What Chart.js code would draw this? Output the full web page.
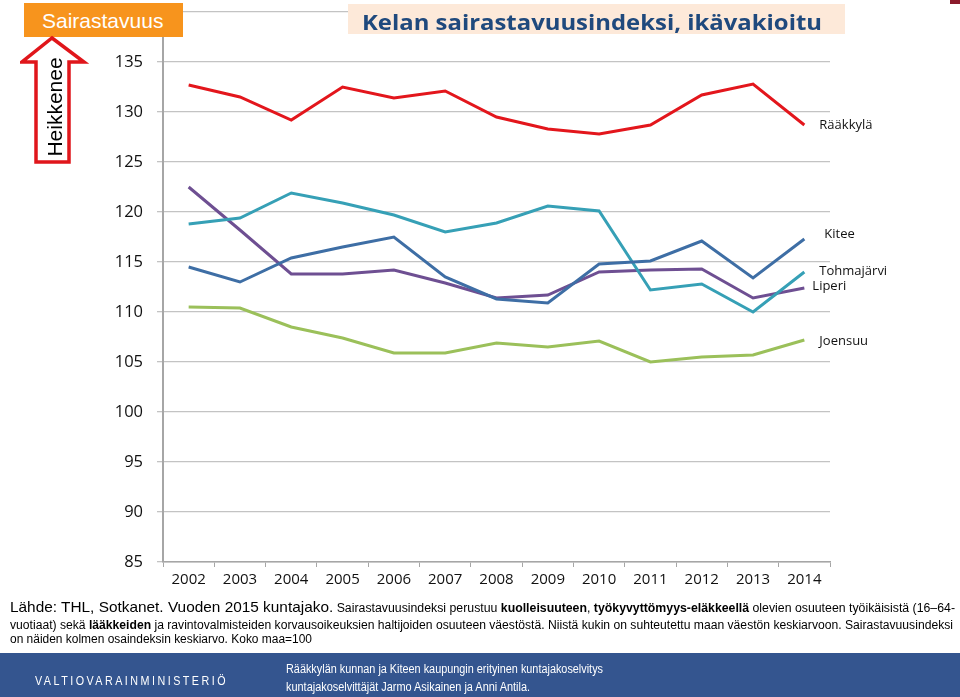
<!DOCTYPE html>
<html>
<head>
<meta charset="utf-8">
<script src="https://cdn.jsdelivr.net/npm/chart.js@4.4.1/dist/chart.umd.min.js"></script>
<style>
  html, body { margin:0; padding:0; background:#fff; }
  #wrap { position:relative; width:960px; height:697px; overflow:hidden; font-family:"Liberation Sans", Arial, sans-serif; }
  canvas { position:absolute; left:0; top:0; }
  .ov { position:absolute; white-space:nowrap; }
  .fit { transform-origin:0 50%; }
</style>
</head>
<body>
<div id="wrap">
  <canvas id="c" width="960" height="697"></canvas>

  <div class="ov" style="left:24px;top:3px;width:159px;height:34px;background:#f7941d;"></div>
  <div class="ov" style="left:42px;top:8px;color:#fff;font-size:21px;line-height:26px;">Sairastavuus</div>

  <svg class="ov" style="left:20px;top:34px;" width="72" height="132">
    <polygon points="32,4 64,28 49,28 49,128 16,128 16,28 2,28" fill="#fff" stroke="#e0161b" stroke-width="3.5" stroke-linejoin="miter"/>
  </svg>
  <div class="ov" style="left:55px;top:107px;transform:translate(-50%,-50%) rotate(-90deg);font-size:21px;color:#000;">Heikkenee</div>

  <div class="ov" style="left:348px;top:4px;width:497px;height:30px;background:#fde9d9;"></div>
  <div class="ov fit" data-w="460" style="left:362px;top:8px;font-family:'Open Sans',sans-serif;font-weight:bold;font-size:21px;line-height:28px;color:#1f497d;">Kelan sairastavuusindeksi, ikävakioitu</div>

  <div class="ov" style="left:950px;top:0;width:10px;height:4px;background:#8b1a2b;"></div>

  <div class="ov fit" data-w="945" style="left:10px;top:598px;line-height:18px;color:#000;"><span style="font-size:15px;">Lähde: THL, Sotkanet. Vuoden 2015 kuntajako.</span><span style="font-size:12px;"> Sairastavuusindeksi perustuu <b>kuolleisuuteen</b>, <b>työkyvyttömyys-eläkkeellä</b> olevien osuuteen työikäisistä (16–64-</span></div>
  <div class="ov fit" data-w="943" style="left:10px;top:617px;font-size:12px;line-height:16px;color:#000;">vuotiaat) sekä <b>lääkkeiden</b> ja ravintovalmisteiden korvausoikeuksien haltijoiden osuuteen väestöstä. Niistä kukin on suhteutettu maan väestön keskiarvoon. Sairastavuusindeksi</div>
  <div class="ov fit" data-w="302" style="left:10px;top:631px;font-size:12px;line-height:16px;color:#000;">on näiden kolmen osaindeksin keskiarvo. Koko maa=100</div>

  <div class="ov" style="left:0;top:653px;width:960px;height:44px;background:#34558f;"></div>
  <div class="ov fit" data-w="193" style="left:35px;top:673px;font-size:13px;line-height:16px;letter-spacing:3px;color:#fff;">VALTIOVARAINMINISTERIÖ</div>
  <div class="ov fit" data-w="317" style="left:286px;top:661px;font-size:12px;line-height:16px;color:#fff;">Rääkkylän kunnan ja Kiteen kaupungin erityinen kuntajakoselvitys</div>
  <div class="ov fit" data-w="244" style="left:286px;top:679px;font-size:12px;line-height:16px;color:#fff;">kuntajakoselvittäjät Jarmo Asikainen ja Anni Antila.</div>
</div>

<script>
// ---- data ----
const years = ['2002','2003','2004','2005','2006','2007','2008','2009','2010','2011','2012','2013','2014'];
const seriesNames = ['Rääkkylä','Kitee','Tohmajärvi','Liperi','Joensuu'];
const raakkyla   = [132.7,131.5,129.2,132.5,131.4,132.1,129.5,128.3,127.8,128.7,131.7,132.8,128.7];
const kitee      = [114.5,113.0,115.4,116.5,117.5,113.5,111.3,110.9,114.8,115.1,117.1,113.4,117.3];
const tohmajarvi = [118.8,119.4,121.9,120.9,119.7,118.0,118.9,120.6,120.1,112.2,112.8,110.0,114.0];
const liperi     = [122.5,118.2,113.8,113.8,114.2,112.9,111.4,111.7,114.0,114.2,114.3,111.4,112.4];
const joensuu    = [110.5,110.4,108.5,107.4,105.9,105.9,106.9,106.5,107.1,105.0,105.5,105.7,107.2];
const yMin = 85, yMax = 140, yStep = 5;

// ---- styles ----
const colors = ['#e3161c','#3e6ea5','#36a0b6','#6e4f92','#9bc05a'];
const labelOffsets = [[15,0],[20,-5],[15,-1],[8,-2],[15,1]];

const values = [raakkyla, kitee, tohmajarvi, liperi, joensuu];

const endLabels = {
  id:'endLabels',
  afterDatasetsDraw(chart){
    const ctx = chart.ctx;
    ctx.save();
    ctx.font = '13px "Open Sans", sans-serif';
    ctx.fillStyle = '#111';
    ctx.textBaseline = 'middle';
    ctx.textAlign = 'left';
    chart.data.datasets.forEach((ds,i)=>{
      const meta = chart.getDatasetMeta(i);
      const pt = meta.data[meta.data.length-1];
      ctx.fillText(ds.label, pt.x + labelOffsets[i][0], pt.y + labelOffsets[i][1]);
    });
    ctx.restore();
  }
};

new Chart(document.getElementById('c'), {
  type:'line',
  data:{
    labels: years,
    datasets: values.map((v,i)=>({
      label: seriesNames[i],
      data: v,
      borderColor: colors[i],
      backgroundColor: colors[i],
      borderWidth: 3,
      pointRadius: 0,
      tension: 0,
      fill: false
    }))
  },
  options:{
    responsive:false,
    animation:false,
    layout:{ padding:{ left:0, right:130, top:12, bottom:95 } },
    plugins:{ legend:{display:false}, tooltip:{enabled:false} },
    scales:{
      x:{
        offset:true,
        grid:{ display:true, drawOnChartArea:false, offset:true, tickLength:5, color:'#a6a6a6' },
        border:{ display:true, color:'#a6a6a6', width:1.5 },
        ticks:{ font:{ family:'"Open Sans", sans-serif', size:15 }, color:'#111', padding:4, maxRotation:0, autoSkip:false },
        afterFit(s){ s.height = 40; s.paddingLeft = 0; s.paddingRight = 0; }
      },
      y:{
        min:yMin, max:yMax,
        grid:{ color:'#c3c3c3', lineWidth:1.3, tickLength:6 },
        border:{ display:true, color:'#a6a6a6', width:2 },
        ticks:{ stepSize:yStep, font:{ family:'"Open Sans", sans-serif', size:16.5 }, color:'#111', padding:14 },
        afterFit(s){ s.width = 163; s.paddingTop = 0; s.paddingBottom = 0; }
      }
    }
  },
  plugins:[endLabels]
});

function fitAll(){
  document.querySelectorAll('.fit').forEach(el=>{
    el.style.transform='none';
    const w = el.getBoundingClientRect().width;
    const target = parseFloat(el.dataset.w);
    if (w>0) el.style.transform = 'scaleX(' + (target/w) + ')';
  });
}
fitAll();
if (document.fonts && document.fonts.ready) document.fonts.ready.then(fitAll);
</script>
</body>
</html>
